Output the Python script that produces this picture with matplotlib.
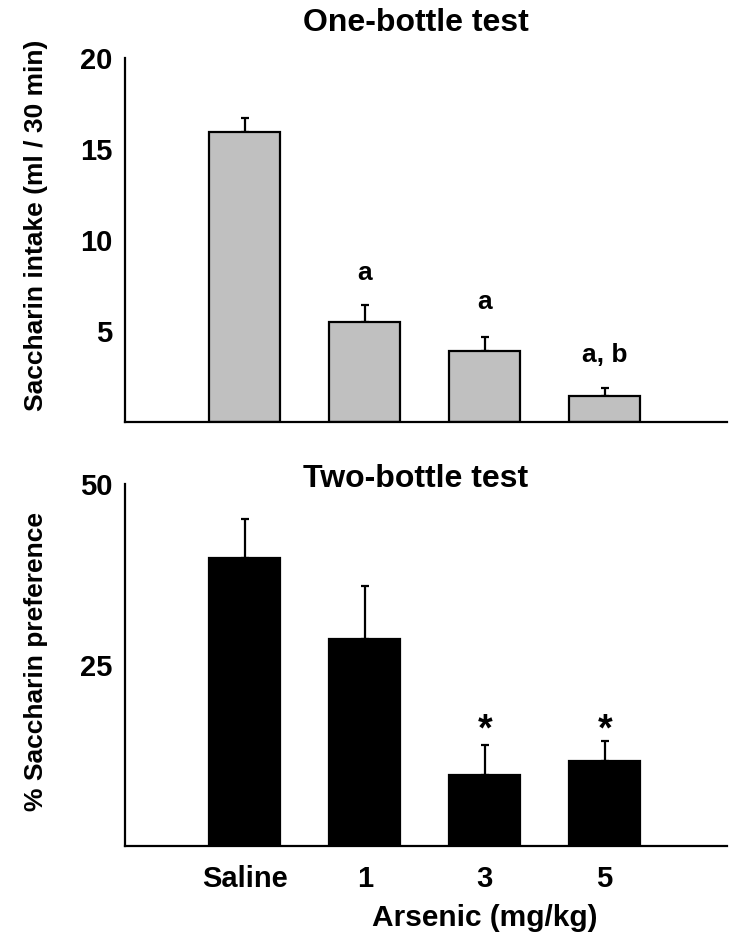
import numpy as np
import matplotlib
matplotlib.use("Agg")
import matplotlib.pyplot as plt

plt.rcParams['font.family'] = ['Liberation Sans', 'DejaVu Sans']
plt.rcParams['font.weight'] = 'bold'

groups = ["Saline", "1", "3", "5"]

# one-bottle test: intake (ml / 30 min)
intake = [15.9, 5.5, 3.9, 1.45]
intake_err = [0.8, 0.9, 0.75, 0.4]
intake_marks = ["", "a", "a", "a, b"]
intake_mark_y = [0, 8.2, 6.6, 3.7]

# two-bottle test: % preference
pref = [39.8, 28.6, 9.8, 11.8]
pref_err = [5.4, 7.3, 4.2, 2.7]
pref_marks = ["", "", "*", "*"]
pref_mark_y = [0, 0, 16.0, 16.0]

x = np.arange(len(groups))

fig = plt.figure(figsize=(7.43, 9.46), dpi=100)
ax1 = fig.add_axes([0.168, 0.554, 0.8105, 0.385])
ax2 = fig.add_axes([0.168, 0.1057, 0.8105, 0.3827])


def style(ax, ymax, ticks):
    ax.set_xlim(-1, 4.02)
    ax.set_ylim(0, ymax)
    ax.set_yticks(ticks)
    ax.spines['top'].set_visible(False)
    ax.spines['right'].set_visible(False)
    ax.spines['left'].set_linewidth(1.6)
    ax.spines['bottom'].set_linewidth(1.6)
    ax.tick_params(axis='y', length=0, labelsize=21, pad=9)
    ax.tick_params(axis='x', length=0, labelsize=21, pad=14)
    for lab in ax.get_yticklabels():
        lab.set_fontweight('bold')


ax1.bar(x, intake, width=0.59, color="#c0c0c0", edgecolor="black", linewidth=1.6, zorder=2)
ax1.errorbar(x, intake, yerr=[np.zeros(4), intake_err], fmt='none', ecolor='black',
             elinewidth=1.6, capsize=3, capthick=1.6, zorder=1)
for xi, m, my in zip(x, intake_marks, intake_mark_y):
    if m:
        ax1.text(xi, my, m, ha='center', va='center', fontsize=19, fontweight='bold')
style(ax1, 20, [5, 10, 15, 20])
ax1.set_xticks([])
fig.text(416 / 743, 1 - 23 / 946, "One-bottle test", ha='center', va='center',
         fontsize=23, fontweight='bold')
fig.text(36 / 743, 1 - 225 / 946, "Saccharin intake (ml / 30 min)", rotation=90,
         ha='center', va='center', fontsize=19, fontweight='bold')

ax2.bar(x, pref, width=0.59, color="black", edgecolor="black", linewidth=1.6, zorder=2)
ax2.errorbar(x, pref, yerr=[np.zeros(4), pref_err], fmt='none', ecolor='black',
             elinewidth=1.6, capsize=3, capthick=1.6, zorder=1)
for xi, m, my in zip(x, pref_marks, pref_mark_y):
    if m:
        ax2.text(xi, my, m, ha='center', va='center', fontsize=27, fontweight='bold')
style(ax2, 50, [25, 50])
ax2.set_xticks(x)
ax2.set_xticklabels(groups, fontweight='bold')
fig.text(416 / 743, 1 - 479 / 946, "Two-bottle test", ha='center', va='center',
         fontsize=23, fontweight='bold')
fig.text(36 / 743, 1 - 661 / 946, "% Saccharin preference", rotation=90,
         ha='center', va='center', fontsize=19, fontweight='bold')
ax2.text(2, -9.9, "Arsenic (mg/kg)", ha='center', va='center', fontsize=21.5, fontweight='bold')

fig.savefig("out.png", dpi=100)
